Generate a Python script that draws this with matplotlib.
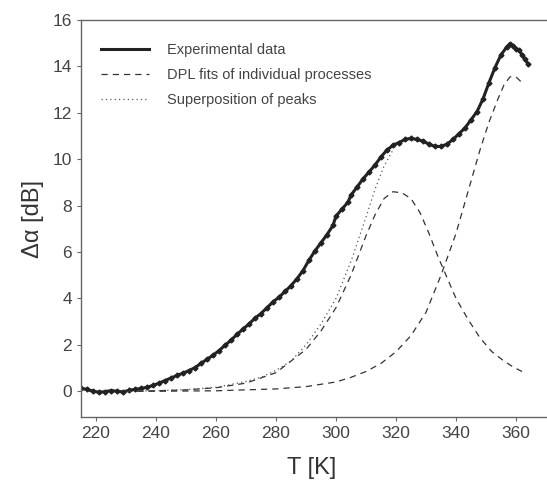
import numpy as np
import matplotlib.pyplot as plt

plt.rcParams['font.family'] = ['Liberation Sans', 'DejaVu Sans']

# experimental data
T_exp = [215, 217, 219, 221, 223, 225, 227, 229, 231, 233, 235, 237, 239, 241, 243,
         245, 247, 249, 251, 253, 255, 257, 259, 261, 263, 265, 267, 269, 271, 273,
         275, 277, 279, 281, 283, 285, 287, 289, 291, 293, 295, 297, 299, 300, 302,
         304, 305, 307, 309, 311, 313, 315, 317, 319, 321, 323, 325, 327, 329, 331,
         333, 335, 337, 339, 341, 343, 345, 347, 349, 351, 353, 355, 357, 358, 359,
         360, 361, 362, 363, 364]
a_exp = [0.12, 0.08, 0.0, -0.04, -0.02, 0.03, 0.0, -0.03, 0.04, 0.08, 0.12, 0.17, 0.25, 0.35, 0.46,
         0.57, 0.68, 0.78, 0.89, 1.02, 1.2, 1.38, 1.55, 1.75, 1.98, 2.2, 2.45, 2.68, 2.9, 3.15,
         3.35, 3.6, 3.85, 4.05, 4.3, 4.55, 4.85, 5.2, 5.65, 6.05, 6.4, 6.75, 7.15, 7.55, 7.85,
         8.15, 8.45, 8.8, 9.15, 9.45, 9.75, 10.1, 10.4, 10.6, 10.72, 10.85, 10.9, 10.85, 10.78, 10.65,
         10.55, 10.55, 10.65, 10.85, 11.1, 11.35, 11.7, 12.05, 12.6, 13.3, 13.95, 14.5, 14.85, 14.98, 14.9,
         14.75, 14.7, 14.5, 14.3, 14.1]

# DPL fit, process 1
T_p1 = [230, 240, 250, 260, 270, 280, 290, 295, 300, 305, 310, 313, 316, 319, 322,
        325, 328, 331, 334, 337, 340, 344, 348, 352, 356, 359, 362]
a_p1 = [0.0, 0.02, 0.06, 0.15, 0.35, 0.8, 1.8, 2.6, 3.6, 5.0, 6.7, 7.6, 8.3, 8.6, 8.55,
        8.3, 7.7, 6.8, 5.8, 4.9, 4.0, 3.1, 2.3, 1.7, 1.3, 1.05, 0.85]

# DPL fit, process 2
T_p2 = [230, 240, 260, 280, 290, 300, 305, 310, 315, 320, 325, 330, 335, 340, 344,
        348, 351, 354, 356, 358, 360, 362]
a_p2 = [0.0, 0.0, 0.02, 0.1, 0.2, 0.4, 0.6, 0.85, 1.2, 1.7, 2.4, 3.4, 5.0, 6.8, 8.6,
        10.4, 11.6, 12.6, 13.2, 13.55, 13.55, 13.3]

# superposition of peaks
T_sum = [235, 240, 250, 260, 270, 275, 280, 285, 290, 295, 300, 305, 310, 313, 316, 319]
a_sum = [0.01, 0.02, 0.07, 0.17, 0.42, 0.6, 0.9, 1.3, 2.0, 2.9, 4.0, 5.6, 7.5, 8.7, 9.7, 10.4]

fig = plt.figure(figsize=(5.47, 4.84), dpi=100)
ax = fig.add_axes([81/547, 67/484, 471/547, 397/484])

ax.plot(T_exp, a_exp, color='#222222', lw=2.2, label='Experimental data')
ax.plot(T_exp, a_exp, ls='none', color='#222222', marker='D', ms=2.5)
ax.plot(T_p1, a_p1, color='#333333', lw=0.9, ls=(0, (5, 4)),
        label='DPL fits of individual processes')
ax.plot(T_p2, a_p2, color='#333333', lw=0.9, ls=(0, (5, 4)))
ax.plot(T_sum, a_sum, color='#555555', lw=0.9, ls=(0, (1, 2.5)),
        label='Superposition of peaks')

ax.set_xlim(215, 372)
ax.set_ylim(-1.11, 16)
ax.set_xticks(np.arange(220, 361, 20))
ax.set_yticks(np.arange(0, 17, 2))
ax.tick_params(labelsize=12.5, labelcolor='#444444', color='#666666',
               length=3, width=0.8, direction='out')
for s in ax.spines.values():
    s.set_color('#666666')
    s.set_linewidth(1.0)

ax.set_xlabel('T [K]', fontsize=17, color='#333333')
ax.set_ylabel('Δα [dB]', fontsize=17, color='#333333', labelpad=6)
ax.xaxis.set_label_coords(0.49, -0.1)

leg = ax.legend(loc='upper left', frameon=False, fontsize=10.5, handlelength=3.3,
                handletextpad=1.2, labelspacing=0.75,
                bbox_to_anchor=(0.015, 0.975))
for t in leg.get_texts():
    t.set_color('#444444')

fig.savefig('out.png', dpi=100)
